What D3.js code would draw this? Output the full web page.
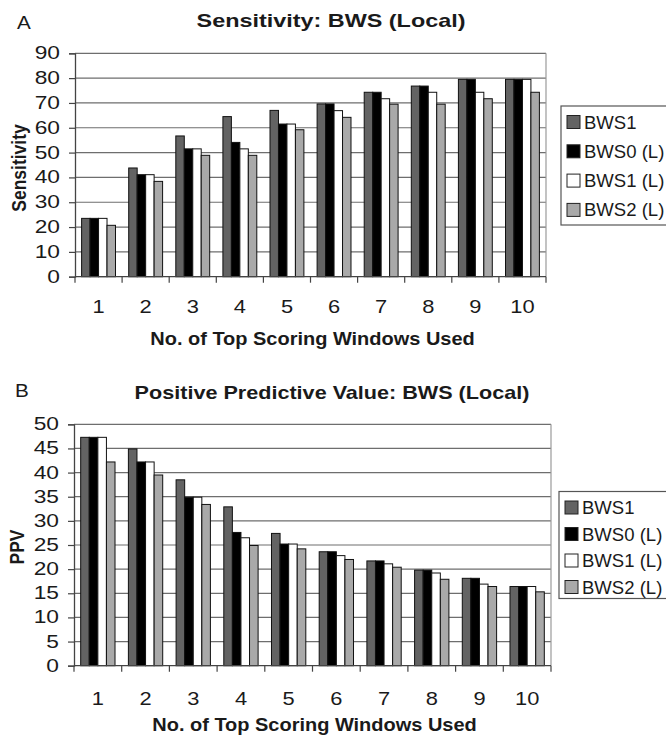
<!DOCTYPE html>
<html>
<head>
<meta charset="utf-8">
<script src="https://cdn.jsdelivr.net/npm/d3@7"></script>
<style>
  html, body { margin: 0; padding: 0; background: #fff; }
  svg { display: block; }
  text { font-family: "Liberation Sans", Arial, sans-serif; fill: #1a1a1a; }
</style>
</head>
<body>
<svg id="fig" width="666" height="735"></svg>
<script>
// Number of top scoring windows used (x categories)
const categories = ["1", "2", "3", "4", "5", "6", "7", "8", "9", "10"];
const seriesNames = ["BWS1", "BWS0 (L)", "BWS1 (L)", "BWS2 (L)"];
const seriesColors = ["#636363", "#000000", "#ffffff", "#a9a9a9"];

// Panel A: sensitivity (%)
const sensBWS1  = [23.5, 43.8, 56.7, 64.5, 67.0, 69.6, 74.3, 76.8, 79.5, 79.5];
const sensBWS0L = [23.5, 41.1, 51.5, 54.1, 61.5, 69.6, 74.3, 76.8, 79.5, 79.5];
const sensBWS1L = [23.5, 41.1, 51.5, 51.5, 61.5, 66.9, 71.7, 74.3, 74.3, 79.5];
const sensBWS2L = [20.7, 38.4, 48.9, 48.9, 59.2, 64.2, 69.5, 69.5, 71.7, 74.3];
const sensTicks = [0, 10, 20, 30, 40, 50, 60, 70, 80, 90];

// Panel B: positive predictive value (%)
const ppvBWS1  = [47.3, 44.9, 38.5, 32.9, 27.4, 23.6, 21.7, 19.8, 18.1, 16.4];
const ppvBWS0L = [47.3, 42.2, 34.9, 27.6, 25.2, 23.6, 21.7, 19.8, 18.1, 16.4];
const ppvBWS1L = [47.3, 42.2, 34.9, 26.5, 25.2, 22.8, 21.1, 19.2, 16.9, 16.4];
const ppvBWS2L = [42.2, 39.5, 33.4, 24.9, 24.2, 22.0, 20.4, 17.9, 16.4, 15.3];
const ppvTicks = [0, 5, 10, 15, 20, 25, 30, 35, 40, 45, 50];

const svg = d3.select("#fig");

// Text that is stretched horizontally (wide lettering of the figure)
function label(g, x, y, str, o) {
  const sx = o.sx || 1;
  const grp = g.append("g")
    .attr("transform", `translate(${x},${y}) scale(${sx},1)` + (o.rotate ? ` rotate(${o.rotate})` : ""));
  return grp.append("text")
    .attr("text-anchor", o.anchor || "start")
    .attr("dominant-baseline", o.baseline || "alphabetic")
    .attr("font-size", o.size)
    .attr("font-weight", o.weight || "normal")
    .text(str);
}

function panel(cfg) {
  const g = svg.append("g");
  const x = d3.scaleBand().domain(categories).range([cfg.x0, cfg.x1]).padding(0);
  const inner = d3.scaleBand().domain(seriesNames)
    .range([0, x.bandwidth()]).paddingInner(0).paddingOuter(0.78);
  const y = d3.scaleLinear().domain([0, cfg.yMax]).range([cfg.yBottom, cfg.yTop]);

  // horizontal gridlines
  g.append("g").selectAll("line").data(cfg.ticks.filter(t => t > 0)).join("line")
    .attr("x1", cfg.x0).attr("x2", cfg.x1)
    .attr("y1", d => y(d)).attr("y2", d => y(d))
    .attr("stroke", "#6e6e6e").attr("stroke-width", 1.2);

  // plot frame right edge
  g.append("line").attr("x1", cfg.x1).attr("x2", cfg.x1)
    .attr("y1", cfg.yTop).attr("y2", cfg.yBottom)
    .attr("stroke", "#9a9a9a").attr("stroke-width", 1.2);

  // bars
  const seriesData = cfg.series;
  seriesNames.forEach((name, si) => {
    g.append("g").selectAll("rect").data(seriesData[si]).join("rect")
      .attr("x", (d, i) => x(categories[i]) + inner(name))
      .attr("y", d => y(d))
      .attr("width", inner.bandwidth())
      .attr("height", d => y(0) - y(d))
      .attr("fill", seriesColors[si])
      .attr("stroke", "#111").attr("stroke-width", 1);
  });

  // y axis
  const yAxis = d3.axisLeft(y).tickValues(cfg.ticks).tickSize(6).tickFormat("");
  const ya = g.append("g").attr("transform", `translate(${cfg.x0},0)`).call(yAxis);
  ya.select(".domain").attr("stroke", "#444").attr("stroke-width", 1.3);
  ya.selectAll(".tick line").attr("stroke", "#444").attr("stroke-width", 1.2);
  cfg.ticks.forEach(t => label(g, cfg.x0 - 15, y(t), String(t),
    { size: 17.5, anchor: "end", baseline: "central", sx: 1.3 }));

  // x axis with ticks at category boundaries
  g.append("line").attr("x1", cfg.x0).attr("x2", cfg.x1)
    .attr("y1", y(0)).attr("y2", y(0)).attr("stroke", "#444").attr("stroke-width", 1.3);
  const bounds = categories.map(c => x(c)).concat([cfg.x1]);
  g.append("g").selectAll("line").data(bounds).join("line")
    .attr("x1", d => d).attr("x2", d => d)
    .attr("y1", y(0)).attr("y2", y(0) + 6)
    .attr("stroke", "#444").attr("stroke-width", 1.2);
  categories.forEach(c => label(g, x(c) + x.bandwidth() / 2, cfg.xLabelY, c,
    { size: 17.5, anchor: "middle", sx: 1.25 }));

  // titles
  label(g, cfg.panelX, cfg.panelY, cfg.panel, { size: 18, sx: 1.15 });
  label(g, cfg.titleX, cfg.titleY, cfg.title,
    { size: 18, weight: "bold", anchor: "middle", sx: cfg.titleSx });
  label(g, (cfg.x0 + cfg.x1) / 2 + 2, cfg.xTitleY, "No. of Top Scoring Windows Used",
    { size: 18, weight: "bold", anchor: "middle", sx: 1.11 });
  label(g, cfg.yTitleX, cfg.yTitleY, cfg.yTitle,
    { size: 17.5, weight: "bold", anchor: "middle", baseline: "central", sx: 1.2, rotate: -90 });

  // legend
  const L = cfg.legend;
  g.append("rect").attr("x", L.x).attr("y", L.y).attr("width", 140).attr("height", L.h)
    .attr("fill", "#fff").attr("stroke", "#555").attr("stroke-width", 1.2);
  seriesNames.forEach((name, si) => {
    const by = L.firstBaseline + si * L.step;
    g.append("rect").attr("x", L.x + 6).attr("y", by - 13)
      .attr("width", 13).attr("height", 13)
      .attr("fill", seriesColors[si]).attr("stroke", "#222").attr("stroke-width", 1);
    label(g, L.x + 23, by, name, { size: 18, sx: 1.03 });
  });
}

panel({
  panel: "A", panelX: 17, panelY: 29,
  title: "Sensitivity: BWS (Local)", titleX: 331, titleY: 27, titleSx: 1.3,
  yTitle: "Sensitivity", yTitleX: 19, yTitleY: 168,
  x0: 75, x1: 546, yTop: 53.3, yBottom: 276.7, yMax: 90, ticks: sensTicks,
  series: [sensBWS1, sensBWS0L, sensBWS1L, sensBWS2L],
  xLabelY: 313, xTitleY: 345,
  legend: { x: 561, y: 106, h: 119, firstBaseline: 128.5, step: 29.3 }
});

panel({
  panel: "B", panelX: 15, panelY: 397,
  title: "Positive Predictive Value: BWS (Local)", titleX: 332, titleY: 398.5, titleSx: 1.2,
  yTitle: "PPV", yTitleX: 17, yTitleY: 547,
  x0: 74, x1: 551, yTop: 424.3, yBottom: 665.7, yMax: 50, ticks: ppvTicks,
  series: [ppvBWS1, ppvBWS0L, ppvBWS1L, ppvBWS2L],
  xLabelY: 705, xTitleY: 730.5,
  legend: { x: 559, y: 491.5, h: 107, firstBaseline: 514, step: 26.5 }
});
</script>
</body>
</html>
